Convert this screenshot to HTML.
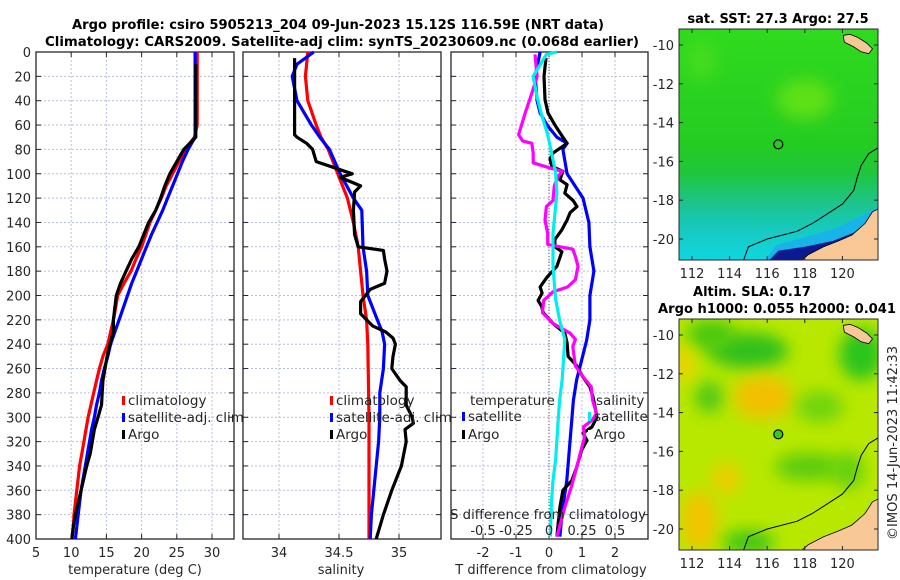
<!DOCTYPE html>
<html><head><meta charset="utf-8"><style>
body{margin:0;background:#fff}
svg{display:block;font-family:"DejaVu Sans","Liberation Sans",sans-serif}
.tk{font-size:13px;fill:#262626}
.lg{font-size:13.5px;fill:#262626}
.tt{font-size:13px;font-weight:bold;fill:#000}
</style></head><body>
<svg id="fig" width="900" height="580" viewBox="0 0 900 580" xmlns="http://www.w3.org/2000/svg">
<defs>
<linearGradient id="sstg" x1="0" y1="0" x2="0" y2="1">
<stop offset="0" stop-color="#30da1e"/><stop offset="0.5" stop-color="#24cc22"/><stop offset="0.62" stop-color="#20c63a"/><stop offset="0.76" stop-color="#1cc490"/><stop offset="0.88" stop-color="#16cac4"/><stop offset="1" stop-color="#10d6e0"/></linearGradient>
<filter id="bl" x="-50%" y="-50%" width="200%" height="200%"><feGaussianBlur stdDeviation="8"/></filter>
<clipPath id="c1"><rect x="679" y="29" width="199" height="231"/></clipPath>
<clipPath id="c2"><rect x="679" y="319" width="199" height="231"/></clipPath>
</defs>
<g id="root"></g>
</svg>
<script>
// ---- data (depth in m) ----
const tDepth=[0,10,20,30,40,50,60,70,80,90,100,110,120,130,140,150,160,170,180,190,200,210,220,230,240,250,260,270,280,290,300,310,320,330,340,350,360,370,380,390,400];
const tClim=[27.9,27.9,27.9,27.9,27.9,27.9,27.9,27.5,26.2,25.3,24.4,23.5,22.8,22.0,21.2,20.6,20.0,19.2,18.5,17.5,16.6,16.3,16.0,15.6,15.2,14.5,14.0,13.6,13.2,12.8,12.4,12.1,11.8,11.5,11.2,11.0,10.8,10.6,10.4,10.3,10.1];
const tSat=[27.6,27.6,27.6,27.6,27.6,27.6,27.6,27.6,26.6,25.8,25.1,24.4,23.7,23.0,22.2,21.4,20.7,20.0,19.3,18.6,18.0,17.4,16.8,16.2,15.6,15.2,14.7,14.3,14.0,13.6,13.3,12.9,12.6,12.3,12.0,11.7,11.4,11.2,11.0,10.8,10.6];
const tArgoDepth=tDepth.slice(1);
const tArgo=[27.7,27.7,27.7,27.7,27.7,27.7,27.7,26.0,25.0,24.0,23.3,22.7,22.0,21.0,20.3,19.6,18.6,17.8,17.0,16.4,16.2,16.0,16.0,15.5,15.1,14.8,14.5,14.4,14.3,13.8,13.3,13.0,12.7,12.2,11.8,11.4,11.0,10.6,10.3,10.1];
const sClimDepth=[0,10,20,40,60,70,80,100,120,140,160,180,200,220,240,300,400];
const sClim=[34.24,34.23,34.22,34.24,34.31,34.35,34.41,34.49,34.57,34.62,34.66,34.68,34.70,34.73,34.74,34.75,34.75];
const sSatDepth=[0,10,20,40,60,70,80,100,120,130,160,180,200,220,230,240,260,280,300,320,340,360,380,400];
const sSat=[34.29,34.15,34.11,34.15,34.27,34.34,34.42,34.51,34.62,34.69,34.70,34.73,34.74,34.82,34.86,34.88,34.87,34.84,34.84,34.83,34.81,34.79,34.77,34.76];
const sArgoDepth=[5,68,70,75,80,90,95,100,103,110,115,130,150,160,163,170,180,190,195,200,205,215,225,230,235,240,250,260,270,275,290,300,305,310,320,340,350,360,380,400];
const sArgo=[34.13,34.13,34.15,34.23,34.28,34.31,34.46,34.61,34.51,34.68,34.63,34.62,34.63,34.66,34.87,34.88,34.90,34.88,34.76,34.72,34.68,34.68,34.78,34.89,34.95,34.97,34.95,34.94,35.01,35.06,35.06,35.11,35.12,35.05,35.06,35.02,34.98,34.94,34.87,34.81];
const dSatTDepth=[0,20,40,50,60,70,75,80,100,120,140,160,180,200,220,237,253,269,286,302,319,335,352,368,384,398];
const dSatT=[-0.27,-0.42,-0.36,-0.27,-0.06,0.24,0.55,0.42,0.55,1.03,1.21,1.24,1.36,1.24,1.24,1.14,0.99,0.84,0.74,0.69,0.64,0.59,0.54,0.45,0.38,0.33];
const dArgoTDepth=[5,20,39,50,60,70,75,83,88,94,98,105,109,116,122,127,132,138,146,154,160,164,176,185,193,198,204,209,214,223,231,239,250,258,267,275,283,291,300,308,313,319,327,341,352,360,374,387,398];
const dArgoT=[-0.09,-0.15,-0.12,-0.03,0.18,0.42,0.55,0.12,0.03,0.09,0.42,0.33,0.55,0.48,0.73,0.85,0.64,0.55,0.39,0.18,0.18,0.39,0.24,-0.06,-0.27,-0.21,-0.33,-0.22,-0.18,0.12,0.48,0.55,0.58,0.85,1.03,1.24,1.33,1.39,1.45,1.30,1.03,1.15,0.99,0.84,0.69,0.42,0.33,0.28,0.24];
const dArgoSDepth=[2,20,34,50,68,73,75,83,91,95,98,102,110,122,127,138,149,158,162,168,176,187,193,197,204,214,223,231,236,242,258,267,275,286,297,302,308,316,324,341,357,374,398];
const dArgoS=[-0.106,-0.09,-0.13,-0.18,-0.23,-0.2,-0.13,-0.12,-0.12,0.0,0.1,0.07,0.04,0.03,-0.02,-0.03,-0.01,-0.01,0.18,0.2,0.22,0.2,0.14,0.03,-0.04,-0.05,0.03,0.16,0.2,0.18,0.2,0.26,0.32,0.33,0.36,0.33,0.26,0.27,0.25,0.21,0.17,0.12,0.06];
const dSatSDepth=[0,2,20,37,50,68,83,99,116,127,149,176,203,220,236,253,269,286,302,319,335,352,368,398];
const dSatS=[0.06,-0.02,-0.12,-0.09,-0.06,-0.01,0.02,0.05,0.06,0.05,0.03,0.03,0.05,0.08,0.12,0.11,0.10,0.08,0.07,0.06,0.05,0.03,0.02,0.01];
const depthTicks=[0,20,40,60,80,100,120,140,160,180,200,220,240,260,280,300,320,340,360,380,400];
const tempTicks=[5,10,15,20,25,30];
const salTicks=[34,34.5,35];
const salTickLabels=["34","34.5","35"];
const tdTicks=[-2,-1,0,1,2];
const sdTicks=[-0.5,-0.25,0,0.25,0.5];
const sdTickLabels=["-0.5","-0.25","0","0.25","0.5"];
const latTicks=[-10,-12,-14,-16,-18,-20];
const lonTicks=[112,114,116,118,120];
const argoLon=116.59, argoLat=-15.12;

// ---- scales ----
const yD=d=>52+d*1.2175;
const x1=t=>36+(t-5)*7.04;
const x2=s=>243+(s-33.7)*120;
const x3T=t=>549+t*33;
const x3S=s=>549+s*132;
const NS="http://www.w3.org/2000/svg";
const root=document.getElementById('root');
function el(tag,attrs,parent,txt){const e=document.createElementNS(NS,tag);for(const k in attrs)e.setAttribute(k,attrs[k]);if(txt!==undefined)e.textContent=txt;(parent||root).appendChild(e);return e;}

function panel(name,L,R,xt,xf,xlabels,showY){
  const g=el('g',{});
  
  
  depthTicks.forEach(d=>{
    if(d>0&&d<400){const gl=el('line',{x1:L,x2:R,y1:yD(d),y2:yD(d),stroke:'#b8bede','stroke-width':1,'stroke-dasharray':'2,2'},g);
    }
    el('line',{x1:L,x2:L+5,y1:yD(d),y2:yD(d),stroke:'#262626'},g);
    el('line',{x1:R-5,x2:R,y1:yD(d),y2:yD(d),stroke:'#262626'},g);
    if(showY){const t=el('text',{x:31,y:yD(d)+5,'text-anchor':'end',class:'tk'},g,String(d));
      }
  });
  xt.forEach((v,i)=>{
    const x=xf(v);
    if(x>L+1&&x<R-1){const gl=el('line',{x1:x,x2:x,y1:52,y2:539,stroke:'#b8bede','stroke-width':1,'stroke-dasharray':'2,2'},g);
      }
    el('line',{x1:x,x2:x,y1:539,y2:534,stroke:'#262626'},g);
    el('line',{x1:x,x2:x,y1:52,y2:57,stroke:'#262626'},g);
    if(xlabels){const t=el('text',{x:x,y:557,'text-anchor':'middle',class:'tk'},g,xlabels[i]);
      }
  });
  const f=el('rect',{x:L,y:52,width:R-L,height:487,fill:'none',stroke:'#262626','stroke-width':1.3},g);
  
  return g;
}
function series(g,name,xs,ds,xf,color,w){
  const pts=xs.map((v,i)=>xf(v).toFixed(1)+','+yD(ds[i]).toFixed(1)).join(' ');
  const p=el('polyline',{points:pts,fill:'none',stroke:color,'stroke-width':w||3.2,'stroke-linejoin':'round'},g);
  
  
}
function legendEntry(g,name,x,y,color,label){
  const e=el('g',{},g);
  
  
  el('rect',{x:x,y:y-9,width:3,height:9,fill:color},e);
  el('text',{x:x+6,y:y,class:'lg'},e,label);
}

// Titles
let t=el('text',{x:338,y:29,'text-anchor':'middle',class:'tt',textLength:532,lengthAdjust:'spacingAndGlyphs'},root,'Argo profile: csiro 5905213_204 09-Jun-2023 15.12S 116.59E (NRT data)');

t=el('text',{x:342,y:46,'text-anchor':'middle',class:'tt',textLength:594,lengthAdjust:'spacingAndGlyphs'},root,'Climatology: CARS2009. Satellite-adj clim: synTS_20230609.nc (0.068d earlier)');


// Panel 1 temperature
let g1=panel('temperature-panel',36,234,tempTicks,x1,tempTicks.map(String),true);
series(g1,'temp-climatology-line',tClim,tDepth,x1,'#ff0000');
series(g1,'temp-satellite-line',tSat,tDepth,x1,'#0000ff');
series(g1,'temp-argo-line',tArgo,tArgoDepth,x1,'#000000');
legendEntry(g1,'legend-climatology',122,405,'#ff0000','climatology');
legendEntry(g1,'legend-satellite-adj-clim',122,422,'#0000ff','satellite-adj. clim');
legendEntry(g1,'legend-argo',122,439,'#000000','Argo');
t=el('text',{x:135,y:574,'text-anchor':'middle',class:'tk'},g1,'temperature (deg C)');


// Panel 2 salinity
let g2=panel('salinity-panel',243,441,salTicks,x2,salTickLabels,false);
series(g2,'sal-climatology-line',sClim,sClimDepth,x2,'#ff0000');
series(g2,'sal-satellite-line',sSat,sSatDepth,x2,'#0000ff');
series(g2,'sal-argo-line',sArgo,sArgoDepth,x2,'#000000');
legendEntry(g2,'legend-sal-climatology',330,405,'#ff0000','climatology');
legendEntry(g2,'legend-sal-satellite-adj-clim',330,422,'#0000ff','satellite-adj. clim');
legendEntry(g2,'legend-sal-argo',330,439,'#000000','Argo');
t=el('text',{x:341,y:574,'text-anchor':'middle',class:'tk'},g2,'salinity');


// Panel 3 differences
let g3=panel('difference-panel',451,648,tdTicks,x3T,tdTicks.map(String),false);
el('line',{x1:549,x2:549,y1:52,y2:539,stroke:'#555','stroke-width':1,'stroke-dasharray':'1,2'},g3);
series(g3,'tdiff-satellite-line',dSatT,dSatTDepth,x3T,'#0000ff');
series(g3,'tdiff-argo-line',dArgoT,dArgoTDepth,x3T,'#000000');
series(g3,'sdiff-argo-line',dArgoS,dArgoSDepth,x3S,'#ff00ff');
series(g3,'sdiff-satellite-line',dSatS,dSatSDepth,x3S,'#00eeee');
t=el('text',{x:470,y:405,class:'lg'},g3,'temperature');
t=el('text',{x:596,y:405,class:'lg'},g3,'salinity');
legendEntry(g3,'legend-t-satellite',462,421,'#0000ff','satellite');
legendEntry(g3,'legend-t-argo',462,439,'#000000','Argo');
legendEntry(g3,'legend-s-satellite',588,421,'#00eeee','satellite');
legendEntry(g3,'legend-s-argo',588,439,'#ffffff','Argo');
sdTicks.forEach((v,i)=>{const tt=el('text',{x:x3S(v),y:535,'text-anchor':'middle',class:'tk'},g3,sdTickLabels[i]);
  });
t=el('text',{x:548,y:519,'text-anchor':'middle',class:'tk',textLength:196,lengthAdjust:'spacingAndGlyphs'},g3,'S difference from climatology');

t=el('text',{x:551,y:574,'text-anchor':'middle',class:'tk'},g3,'T difference from climatology');


// ---- maps ----
const mx=lon=>692+(lon-112)*18.8;
const my=(lat,top)=>top+16+(-10-lat)*19.4;
const land=[[117.7,-21.2],[118.2,-20.8],[119,-20.4],[119.8,-20.1],[120.5,-19.8],[121.2,-19.2],[121.6,-18.6],[122,-18.4],[122,-21.2]];
const island=[[120.05,-9.5],[120.4,-9.45],[120.8,-9.6],[121.3,-9.9],[121.6,-10.2],[121.4,-10.45],[121.0,-10.35],[120.6,-10.1],[120.1,-9.85]];
const shelf=[[114.7,-21.2],[115.0,-20.4],[116.0,-20.0],[117.6,-19.6],[118.4,-19.2],[119.2,-18.7],[120.0,-18.2],[120.6,-17.5],[120.8,-16.8],[121.0,-16.2],[121.4,-15.6],[121.9,-15.3]];
function poly(arr,top){return arr.map(p=>mx(p[0]).toFixed(1)+','+my(p[1],top).toFixed(1)).join(' ');}
function map(name,top,clip,kind){
  const g=el('g',{'clip-path':'url(#'+clip+')'});
  
  
  if(kind==='sst'){
    el('rect',{x:679,y:top,width:199,height:231,fill:'url(#sstg)'},g);
    el('ellipse',{cx:mx(118),cy:my(-12.8,top),rx:28,ry:20,fill:'#5ee012',filter:'url(#bl)'},g);
    el('ellipse',{cx:mx(112.5),cy:my(-10.8,top),rx:15,ry:20,fill:'#44dc1a',filter:'url(#bl)'},g);
    el('polygon',{points:poly([[115.8,-21.2],[116.5,-20.3],[118,-19.9],[119.5,-19.5],[120.8,-18.9],[122,-18.3],[122,-21.2]],top),fill:'#18b4e8'},g);
    el('polygon',{points:poly([[116,-21.2],[116.6,-20.6],[118,-20.4],[119.5,-20.1],[120.8,-19.6],[122,-18.9],[122,-21.2]],top),fill:'#0a1a90'},g);
  } else {
    el('rect',{x:679,y:top,width:199,height:231,fill:'#b8e800'},g);
    const blobs=[[115,-10.8,40,18,'#30c01a'],[113,-10,24,16,'#4cc810'],[112.9,-13.2,14,16,'#50c812'],[121,-11.0,22,26,'#2cc41a'],[115.8,-13.2,30,22,'#f2c000'],[112.4,-19.6,18,30,'#f2c400'],[113.8,-17.4,14,16,'#f0cc00'],[118.8,-13.7,24,16,'#72d410'],[118.2,-16.8,34,14,'#5ccc10'],[120.3,-17,16,18,'#64d010'],[115,-20.7,26,12,'#3cc418'],[111.6,-11.5,10,18,'#f0d000']];
    blobs.forEach(b=>el('ellipse',{cx:mx(b[0]),cy:my(b[1],top),rx:b[2],ry:b[3],fill:b[4],filter:'url(#bl)'},g));
  }
  el('polygon',{points:poly(land,top),fill:'#f8c996',stroke:'#000','stroke-width':0.8},g);
  el('polygon',{points:poly(island,top),fill:'#f8c996',stroke:'#000','stroke-width':0.8},g);
  el('polyline',{points:poly(shelf,top),fill:'none',stroke:'#000','stroke-width':1},g);
  const c=el('circle',{cx:mx(argoLon),cy:my(argoLat,top),r:4.5,fill:kind==='sst'?'none':'#33cc22',stroke:'#000','stroke-width':1.2},root);
  
  
  const ax=el('g',{});
  
  
  el('rect',{x:679,y:top,width:199,height:231,fill:'none',stroke:'#262626','stroke-width':1},ax);
  latTicks.forEach(v=>{const y=my(v,top);el('line',{x1:679,x2:683,y1:y,y2:y,stroke:'#262626'},ax);el('line',{x1:874,x2:878,y1:y,y2:y,stroke:'#262626'},ax);
    el('text',{x:674,y:y+5,'text-anchor':'end',class:'tk'},ax,String(v));});
  lonTicks.forEach(v=>{const x=mx(v);el('line',{x1:x,x2:x,y1:top+231,y2:top+227,stroke:'#262626'},ax);el('line',{x1:x,x2:x,y1:top,y2:top+4,stroke:'#262626'},ax);
    el('text',{x:x,y:top+249,'text-anchor':'middle',class:'tk'},ax,String(v));});
}
map('sst-map',29,'c1','sst');
map('sla-map',319,'c2','sla');
t=el('text',{x:778,y:23,'text-anchor':'middle',class:'tt'},root,'sat. SST: 27.3 Argo: 27.5');
t=el('text',{x:752,y:296,'text-anchor':'middle',class:'tt'},root,'Altim. SLA: 0.17');
t=el('text',{x:777,y:313,'text-anchor':'middle',class:'tt',textLength:238,lengthAdjust:'spacingAndGlyphs'},root,'Argo h1000: 0.055 h2000: 0.041');
t=el('text',{x:0,y:0,'text-anchor':'middle',class:'tk',transform:'translate(897,443) rotate(-90)',textLength:194,lengthAdjust:'spacingAndGlyphs'},root,'©IMOS 14-Jun-2023 11:42:33');
</script>
</body></html>
